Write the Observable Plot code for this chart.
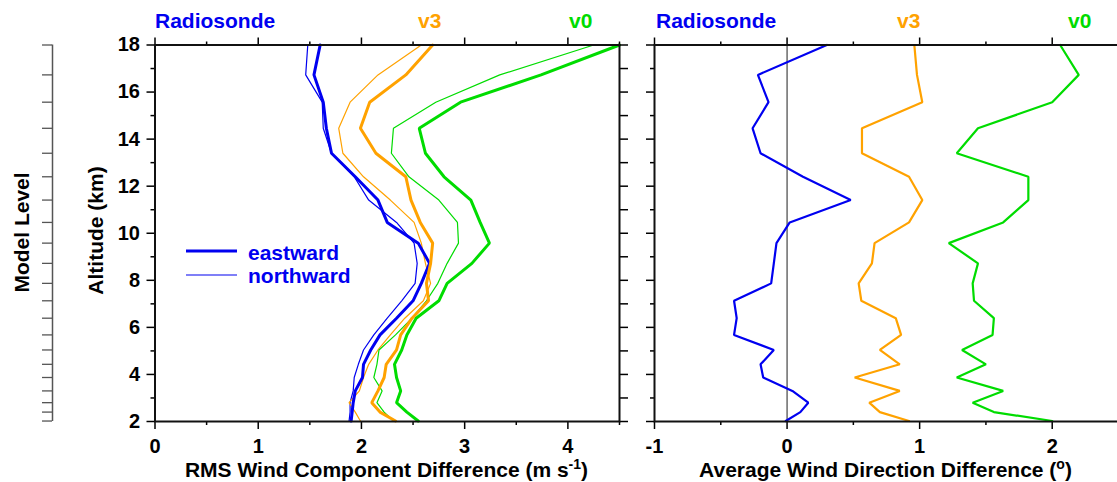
<!DOCTYPE html>
<html><head><meta charset="utf-8">
<script src="https://cdn.jsdelivr.net/npm/d3@7"></script>
<script src="https://cdn.jsdelivr.net/npm/@observablehq/plot@0.6"></script>
<style>
body{margin:0;background:#fff;}
#wrap{position:relative;width:1117px;height:482px;overflow:hidden;font-family:"Liberation Sans",Arial,sans-serif;font-weight:bold;background:#fff;}
#wrap svg{position:absolute;top:0;}
.lab{position:absolute;white-space:nowrap;font-size:21px;line-height:21px;font-weight:bold;}
.sup{font-size:14px;position:relative;top:-8px;line-height:0;}
.rot{position:absolute;width:300px;text-align:center;transform:rotate(-90deg);transform-origin:50% 50%;font-size:21px;line-height:21px;white-space:nowrap;}
</style></head><body><div id="wrap"></div>
<script>
// ---- data (altitude of model levels, km) ----
const levelAlt = [18.0,16.73,15.57,14.46,13.40,12.40,11.41,10.46,9.58,8.72,7.87,7.13,6.39,5.68,5.04,4.43,3.87,3.30,2.80,2.40,2.02];
// RMS wind component difference (m s-1)
const radEast  = [1.60,1.54,1.63,1.66,1.71,1.94,2.16,2.25,2.55,2.66,2.58,2.50,2.34,2.18,2.09,2.02,2.01,1.94,1.92,1.91,1.90];
const radNorth = [1.48,1.46,1.62,1.63,1.71,1.93,2.07,2.34,2.51,2.54,2.52,2.39,2.25,2.12,2.02,1.97,1.93,1.92,1.89,1.89,1.88];
const v3East   = [2.69,2.43,2.08,1.99,2.14,2.43,2.48,2.57,2.69,2.67,2.63,2.65,2.49,2.38,2.34,2.24,2.22,2.16,2.10,2.18,2.33];
const v3North  = [2.58,2.16,1.89,1.78,1.82,2.02,2.28,2.51,2.58,2.62,2.67,2.60,2.42,2.28,2.16,2.07,2.02,1.98,1.88,1.94,1.99];
const v0East   = [4.50,3.74,2.96,2.56,2.62,2.80,3.06,3.15,3.24,3.07,2.83,2.75,2.53,2.44,2.39,2.32,2.34,2.38,2.34,2.44,2.55];
const v0North  = [4.25,3.34,2.72,2.31,2.29,2.46,2.75,2.93,2.94,2.83,2.74,2.63,2.49,2.33,2.17,2.15,2.12,2.20,2.15,2.22,2.31];
// Average wind direction difference (deg)
const radDir = [0.30,-0.22,-0.14,-0.26,-0.20,0.12,0.48,0.02,-0.08,-0.10,-0.12,-0.40,-0.38,-0.40,-0.10,-0.20,-0.18,0.04,0.16,0.10,-0.01];
const v3Dir  = [0.96,0.98,1.02,0.565,0.565,0.92,1.02,0.92,0.66,0.64,0.54,0.56,0.82,0.86,0.70,0.85,0.51,0.85,0.62,0.70,0.92];
const v0Dir  = [2.06,2.20,2.00,1.44,1.28,1.82,1.82,1.63,1.22,1.44,1.40,1.41,1.56,1.55,1.32,1.50,1.28,1.63,1.40,1.56,2.00];
// ticks
const yMajor = [2,4,6,8,10,12,14,16,18];
const yMinor = [3,5,7,9,11,13,15,17];
const yAll = [2,3,4,5,6,7,8,9,10,11,12,13,14,15,16,17,18];
const xMajorL = [0,1,2,3,4];
const xMinorL = [0.5,1.5,2.5,3.5,4.5];
const xMajorR = [-1,0,1,2];
const xMinorR = [-0.5,0.5,1.5,2.5];
const sources = ["Radiosonde","v3","v0"];
const colors = {Radiosonde:"#0000f0", v3:"#ffa200", v0:"#00dc00"};

const rows = v => v.map((x,i)=>({x, alt: levelAlt[i]}));
const H = 482, MT = 44.5, MB = 61;
const font = {fontFamily:"'Liberation Sans', Arial, sans-serif", fontSize:"20px", fontWeight:"bold", background:"transparent", overflow:"visible"};
const wrap = document.getElementById("wrap");
const none = () => "";
const plain = d => String(d);

// Model level axis
const ml = Plot.plot({
  width: 60, height: H, marginLeft: 42, marginRight: 8, marginTop: MT, marginBottom: MB,
  x: {domain:[0,1], axis:null}, y: {domain:[2,18], axis:null},
  style: font,
  marks: [
    Plot.ruleY(levelAlt, {y: d=>d, x1: 0, x2: 1, stroke:"#555", strokeWidth:1.3}),
    Plot.ruleX([1], {stroke:"#555", strokeWidth:1.5})
  ]
});
ml.style.left = "0px"; wrap.appendChild(ml);

function frameAxes(xMajor, xMinor, yLabels) {
  return [
    Plot.axisX(xMajor, {anchor:"bottom", tickSize:8, tickPadding:9, tickFormat: plain, strokeWidth:1.5, label:null}),
    Plot.axisX(xMinor, {anchor:"bottom", tickSize:4, tickFormat:none, strokeWidth:1.5, label:null}),
    Plot.axisX(xMajor, {anchor:"top", tickSize:8, tickFormat:none, strokeWidth:1.5, label:null}),
    Plot.axisX(xMinor, {anchor:"top", tickSize:4, tickFormat:none, strokeWidth:1.5, label:null}),
    Plot.axisY(yMajor, {anchor:"left", tickSize:8, tickPadding:7, tickFormat: yLabels ? plain : none, strokeWidth:1.5, label:null}),
    Plot.axisY(yMinor, {anchor:"left", tickSize:4, tickFormat:none, strokeWidth:1.5, label:null})
  ];
}

// Left panel: RMS wind component difference
const leftSeries = [
  [radNorth,"Radiosonde",1.2],[v3North,"v3",1.2],[v0North,"v0",1.2],
  [radEast,"Radiosonde",3],[v3East,"v3",3],[v0East,"v0",3]
];
const left = Plot.plot({
  width: 580, height: H, marginLeft: 94.5, marginRight: 21, marginTop: MT, marginBottom: MB,
  x: {domain:[0,4.5], label:null}, y: {domain:[2,18], label:null},
  style: font,
  marks: [
    ...leftSeries.map(([v,s,w]) => Plot.line(rows(v), {x:"x", y:"alt", stroke: colors[s], strokeWidth: w, strokeLinejoin:"miter"})),
    ...frameAxes(xMajorL, xMinorL, true),
    Plot.axisY(yAll, {anchor:"right", tickSize:8, tickFormat:none, strokeWidth:1.5, label:null}),
    Plot.frame({stroke:"#111", strokeWidth:2})
  ]
});
left.style.left = "60px"; wrap.appendChild(left);

// Right panel: average wind direction difference
const rightSeries = [[radDir,"Radiosonde"],[v3Dir,"v3"],[v0Dir,"v0"]];
const right = Plot.plot({
  width: 478, height: H, marginLeft: 14, marginRight: 0, marginTop: MT, marginBottom: MB,
  x: {domain:[-1,2.5], label:null}, y: {domain:[2,18], label:null},
  style: font,
  marks: [
    Plot.ruleX([0], {stroke:"#444", strokeWidth:1.2}),
    ...rightSeries.map(([v,s]) => Plot.line(rows(v), {x:"x", y:"alt", stroke: colors[s], strokeWidth: 2.2, strokeLinejoin:"miter"})),
    ...frameAxes(xMajorR, xMinorR, false),
    Plot.frame({stroke:"#111", strokeWidth:2})
  ]
});
right.style.left = "640px"; wrap.appendChild(right);

// Labels
function lab(text, x, y, color, extra="") {
  const d = document.createElement("div");
  d.className = "lab"; d.style.left = x+"px"; d.style.top = y+"px"; d.style.color = color;
  d.innerHTML = text; if (extra) d.style.cssText += extra; wrap.appendChild(d); return d;
}
const titlePos = [[155,418,569],[656,897,1068]];
titlePos.forEach(p => sources.forEach((s,i) => lab(s, p[i], 10, colors[s])));
lab('RMS Wind Component Difference (m s<span class="sup">-1</span>)', 154.5, 459, "#000", "width:464px;text-align:center;");
lab('Average Wind Direction Difference (<span class="sup">o</span>)', 654, 459, "#000", "width:463px;text-align:center;");
function rot(text, cx, cy) {
  const d = document.createElement("div");
  d.className = "rot"; d.style.left = (cx-150)+"px"; d.style.top = (cy-10.5)+"px";
  d.textContent = text; wrap.appendChild(d);
}
rot("Altitude (km)", 95, 230);
rot("Model Level", 21, 232);

// Legend
const leg = document.createElement("div");
leg.style.cssText = "position:absolute;left:186px;top:238px;";
leg.innerHTML = `<svg width="60" height="50" style="position:absolute;left:0;top:0;overflow:visible">
<line x1="0" x2="51" y1="13" y2="13" stroke="${colors.Radiosonde}" stroke-width="3"/>
<line x1="0" x2="51" y1="37" y2="37" stroke="${colors.Radiosonde}" stroke-width="1.2"/></svg>`;
wrap.appendChild(leg);
lab("eastward", 248, 242, colors.Radiosonde);
lab("northward", 248, 265, colors.Radiosonde);
</script></body></html>
